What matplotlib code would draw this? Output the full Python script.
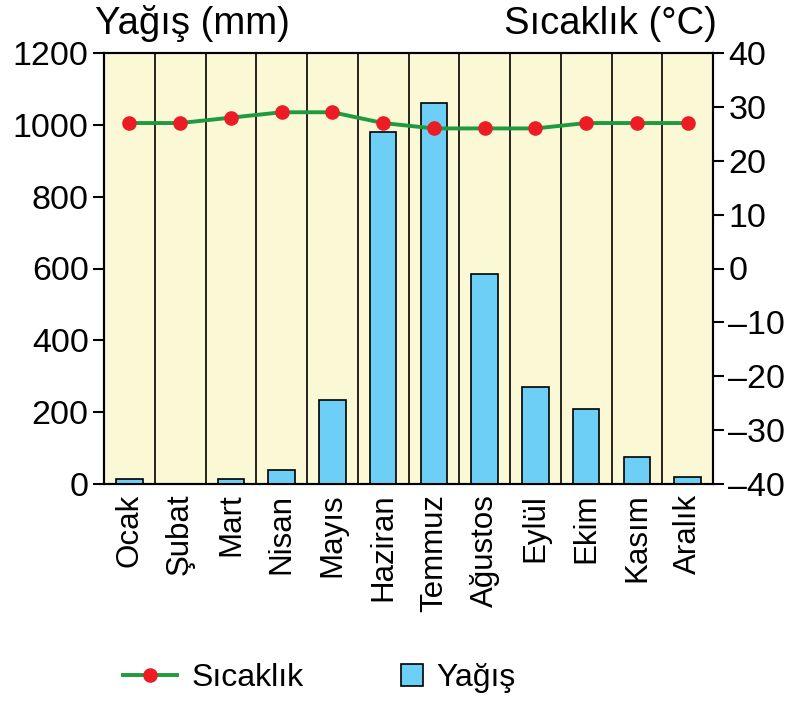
import matplotlib
matplotlib.use("Agg")
import matplotlib.pyplot as plt
from matplotlib.lines import Line2D

plt.rcParams['font.family'] = ['Liberation Sans', 'DejaVu Sans']

# data
months = ['Ocak', 'Şubat', 'Mart', 'Nisan', 'Mayıs', 'Haziran',
          'Temmuz', 'Ağustos', 'Eylül', 'Ekim', 'Kasım', 'Aralık']
rain_mm = [15, 0, 15, 40, 235, 980, 1060, 585, 270, 210, 75, 20]
temp_c = [27, 27, 28, 29, 29, 27, 26, 26, 26, 27, 27, 27]

rain_ticks = [0, 200, 400, 600, 800, 1000, 1200]
temp_ticks = [-40, -30, -20, -10, 0, 10, 20, 30, 40]
temp_tick_labels = [str(t).replace('-', '\u2013') for t in temp_ticks]

bg_color = '#fbf8d6'
bar_color = '#6dcff6'
line_color = '#1f9a3e'
dot_color = '#ec1c24'

fig = plt.figure(figsize=(7.95, 7.02), dpi=100)
ax = fig.add_axes([104/795, 1 - 484/702, (713 - 104)/795, (484 - 53)/702])
ax.set_facecolor(bg_color)

x = list(range(len(months)))
for b in range(1, len(months)):
    ax.axvline(b - 0.5, color='black', lw=1.2, zorder=1)
ax.bar(x, rain_mm, width=0.52, color=bar_color, edgecolor='black', lw=1.2, zorder=3)

ax.set_xlim(-0.5, len(months) - 0.5)
ax.set_ylim(0, 1200)
ax.set_yticks(rain_ticks)
ax.set_xticks(x)
ax.set_xticklabels(months, rotation=90, fontsize=22.5, va='top', ha='center')
ax.tick_params(axis='x', length=0, pad=7)
ax.tick_params(axis='y', labelsize=24.5, length=8, width=1.5, pad=3)
for s in ax.spines.values():
    s.set_linewidth(1.5)

ax2 = ax.twinx()
ax2.plot(x, temp_c, color=line_color, lw=2.8, marker='o', markersize=9.5,
         markerfacecolor=dot_color, markeredgecolor=dot_color, zorder=4)
ax2.set_ylim(-40, 40)
ax2.set_yticks(temp_ticks)
ax2.set_yticklabels(temp_tick_labels)
ax2.tick_params(axis='y', labelsize=24.5, length=8, width=1.5, pad=3)
for s in ax2.spines.values():
    s.set_linewidth(1.5)

fig.text(95/795, 1 - 24/702, 'Yağış (mm)', fontsize=27.5, ha='left', va='center')
fig.text(717/795, 1 - 24/702, 'Sıcaklık (°C)', fontsize=27.5, ha='right', va='center')

h1 = Line2D([], [], color=line_color, lw=2.8, marker='o', markersize=9.5,
            markerfacecolor=dot_color, markeredgecolor=dot_color)
fig.legend([h1], ['Sıcaklık'], loc='center left', bbox_to_anchor=(123/795, 1 - 678/702),
           frameon=False, fontsize=23, handlelength=1.7, handletextpad=0.45,
           borderpad=0, borderaxespad=0)
h2 = Line2D([], [], color='none', marker='s', markersize=15.5,
            markerfacecolor=bar_color, markeredgecolor='black', markeredgewidth=1.2)
fig.legend([h2], ['Yağış'], loc='center left', bbox_to_anchor=(400/795, 1 - 678/702),
           frameon=False, fontsize=23, handlelength=0.75, handletextpad=0.4,
           borderpad=0, borderaxespad=0)

fig.savefig('out.png', dpi=100)
